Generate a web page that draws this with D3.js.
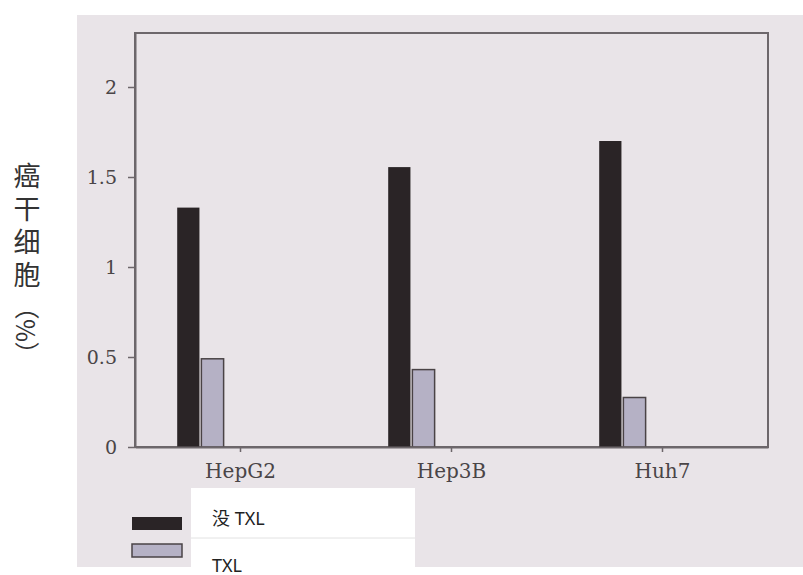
<!DOCTYPE html>
<html><head><meta charset="utf-8">
<script src="https://cdn.jsdelivr.net/npm/d3@7"></script>
<style>body{margin:0;background:#fff}svg{display:block}</style>
</head><body>
<svg id="c" width="803" height="575"></svg>
<script>
const categories = ["HepG2", "Hep3B", "Huh7"];
const seriesNames = ["没 TXL", "TXL"];
const noTXL = [1.33, 1.555, 1.70];
const TXL = [0.49, 0.43, 0.275];
const yTicks = [0, 0.5, 1, 1.5, 2];
const yTickLabels = ["0", "0.5", "1", "1.5", "2"];
const yLabelMain = "癌干细胞";
const yLabelUnit = "（%）";

const svg = d3.select("#c");
const W = 803, H = 575;
const L = 135, R = 768, T = 33, B = 447;
const axisColor = "#6d676b";
const colors = ["#2a2426", "#b5b1c5"];

// background panel
svg.append("rect").attr("x", 77).attr("y", 15).attr("width", W - 77).attr("height", 552).attr("fill", "#e9e4e8");

const x = d3.scaleBand().domain(categories).range([L, R]);
const y = d3.scaleLinear().domain([0, 2.3]).range([B, T]);
const xs = d3.scaleBand().domain(seriesNames).range([x.bandwidth() * 0.2, x.bandwidth() * 0.42]).paddingInner(0.08);

// frame
svg.append("rect").attr("x", L).attr("y", T).attr("width", R - L).attr("height", B - T)
  .attr("fill", "none").attr("stroke", axisColor).attr("stroke-width", 2);

// bars
const data = categories.map((c, i) => ({ c, vals: [noTXL[i], TXL[i]] }));
data.forEach(d => {
  d.vals.forEach((v, j) => {
    svg.append("rect")
      .attr("x", x(d.c) + xs(seriesNames[j]))
      .attr("y", y(v))
      .attr("width", xs.bandwidth())
      .attr("height", y(0) - y(v))
      .attr("fill", colors[j])
      .attr("stroke", j === 1 ? "#4a4346" : "none")
      .attr("stroke-width", 1.5);
  });
});

const tickFont = g => g.selectAll(".tick text").attr("font-family", "DejaVu Serif")
  .attr("font-size", 19).attr("fill", "#4a4547");

// y axis
const yAxis = d3.axisLeft(y).tickValues(yTicks).tickFormat((d, i) => yTickLabels[i]).tickSize(7).tickSizeOuter(0).tickPadding(11);
const gy = svg.append("g").attr("transform", `translate(${L},0)`).call(yAxis);
gy.select(".domain").attr("stroke", axisColor).attr("stroke-width", 2);
gy.selectAll(".tick line").attr("stroke", axisColor).attr("stroke-width", 1.5);
gy.call(tickFont);

// x axis
const xAxis = d3.axisBottom(x).tickSize(5).tickSizeOuter(0).tickPadding(12);
const gx = svg.append("g").attr("transform", `translate(0,${B})`).call(xAxis);
gx.select(".domain").attr("stroke", axisColor).attr("stroke-width", 2);
gx.selectAll(".tick line").attr("stroke", axisColor).attr("stroke-width", 1.5);
gx.call(tickFont);
gx.selectAll(".tick text").attr("font-size", 20);

// y label (vertical writing)
const yl = svg.append("text").attr("x", 27).attr("y", 162)
  .attr("writing-mode", "vertical-rl").style("text-orientation", "mixed")
  .attr("font-family", "Noto Sans CJK SC").attr("fill", "#333");
yl.append("tspan").attr("font-size", 27).attr("letter-spacing", 6).text(yLabelMain);
yl.append("tspan").attr("font-size", 25).attr("letter-spacing", 0).text(yLabelUnit);

// legend
svg.append("rect").attr("x", 191).attr("y", 488).attr("width", 224).attr("height", 87).attr("fill", "#fff");
svg.append("line").attr("x1", 191).attr("x2", 415).attr("y1", 538).attr("y2", 538).attr("stroke", "#e2e2e2").attr("stroke-width", 1);
seriesNames.forEach((s, j) => {
  svg.append("rect").attr("x", 132).attr("y", 517 + j * 27).attr("width", 50).attr("height", 13)
    .attr("fill", colors[j]).attr("stroke", j === 1 ? "#4a4346" : "none").attr("stroke-width", 1.5);
  svg.append("text").attr("x", 212).attr("y", 525 + j * 47)
    .attr("font-family", "Noto Sans, Noto Sans CJK SC").attr("font-size", 18).attr("fill", "#222").text(s);
});
</script>
</body></html>
